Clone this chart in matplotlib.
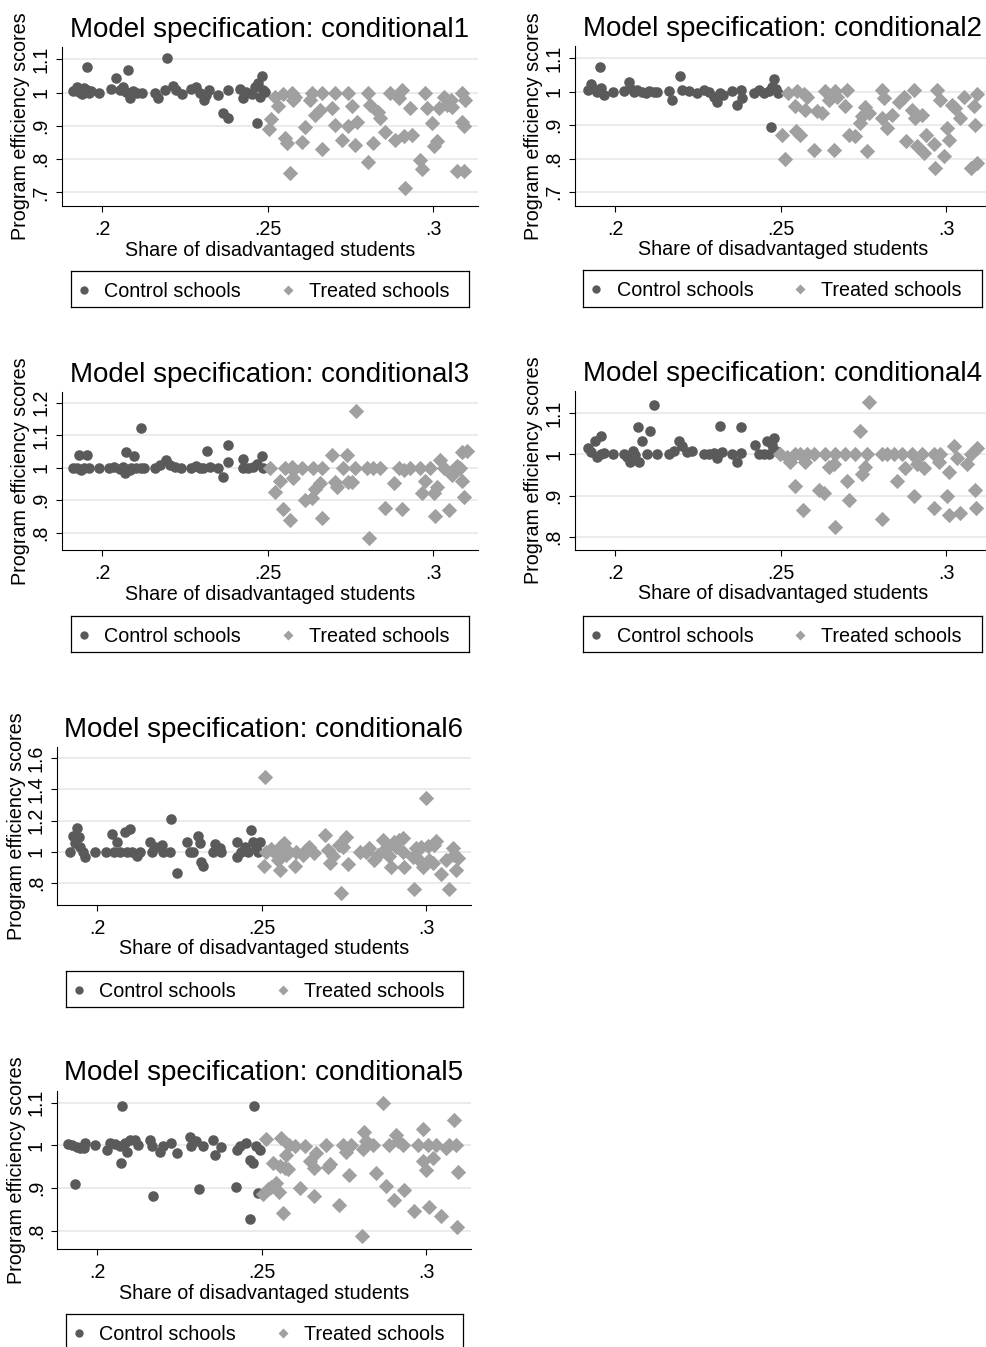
import numpy as np
import matplotlib
matplotlib.use("Agg")
import matplotlib.pyplot as plt
from matplotlib.lines import Line2D
from matplotlib.ticker import FixedLocator, FuncFormatter

plt.rcParams['font.family'] = ['Liberation Sans', 'DejaVu Sans']

W, H = 987, 1347

# conditional1
c1_ctrl_x = [0.1910, 0.1922, 0.1930, 0.1938, 0.1945, 0.1953, 0.1959, 0.1953, 0.1966, 0.1991,
             0.2026, 0.2041, 0.2052, 0.2062, 0.2077, 0.2072, 0.2084, 0.2092, 0.2104, 0.2120,
             0.2158, 0.2168, 0.2188, 0.2213, 0.2223, 0.2241, 0.2196, 0.2269, 0.2284, 0.2294,
             0.2306, 0.2314, 0.2322, 0.2350, 0.2363, 0.2380, 0.2380, 0.2415, 0.2425, 0.2435,
             0.2451, 0.2461, 0.2471, 0.2481, 0.2466, 0.2486, 0.2491, 0.2476]
c1_ctrl_y = [1.006, 1.016, 1.003, 0.996, 1.013, 1.008, 1.000, 1.078, 1.006, 1.000,
             1.010, 1.044, 1.008, 1.016, 1.068, 1.003, 0.983, 1.006, 1.000, 1.000,
             0.998, 0.983, 1.008, 1.020, 1.008, 0.995, 1.103, 1.010, 1.016, 0.998,
             0.978, 0.993, 1.008, 0.993, 0.938, 0.923, 1.008, 1.010, 0.983, 1.003,
             0.996, 1.016, 1.028, 1.050, 0.910, 1.008, 1.003, 0.988]
c1_trt_x = [0.2504, 0.2511, 0.2521, 0.2531, 0.2546, 0.2552, 0.2557, 0.2567, 0.2572, 0.2577,
            0.2582, 0.2602, 0.2612, 0.2632, 0.2627, 0.2642, 0.2658, 0.2663, 0.2663, 0.2693,
            0.2703, 0.2703, 0.2723, 0.2743, 0.2754, 0.2743, 0.2764, 0.2769, 0.2804, 0.2809,
            0.2819, 0.2804, 0.2834, 0.2839, 0.2855, 0.2870, 0.2885, 0.2895, 0.2905, 0.2910,
            0.2915, 0.2930, 0.2935, 0.2961, 0.2966, 0.2976, 0.2981, 0.2996, 0.3001, 0.3011,
            0.3016, 0.3031, 0.3041, 0.3052, 0.3057, 0.3072, 0.3087, 0.3087, 0.3092, 0.3097,
            0.3092]
c1_trt_y = [0.890, 0.920, 0.988, 0.960, 0.996, 0.863, 0.848, 0.758, 0.998, 0.978,
            0.988, 0.850, 0.898, 1.000, 0.978, 0.933, 0.948, 0.830, 1.000, 0.953,
            0.903, 1.000, 0.858, 0.998, 0.960, 0.900, 0.843, 0.913, 0.998, 0.963,
            0.848, 0.790, 0.943, 0.923, 0.880, 1.000, 0.858, 0.983, 1.008, 0.868,
            0.713, 0.953, 0.873, 0.798, 0.770, 1.000, 0.953, 0.908, 0.838, 0.853,
            0.953, 0.988, 0.963, 0.978, 0.958, 0.763, 1.000, 0.913, 0.763, 0.978,
            0.900]

# conditional2
c2_ctrl_x = [0.1917, 0.1927, 0.1936, 0.1946, 0.1954, 0.1956, 0.1966, 0.1994, 0.2028, 0.2041,
             0.2046, 0.2056, 0.2066, 0.2082, 0.2092, 0.2102, 0.2117, 0.2127, 0.2162, 0.2172,
             0.2197, 0.2202, 0.2223, 0.2248, 0.2268, 0.2283, 0.2298, 0.2308, 0.2318, 0.2326,
             0.2353, 0.2369, 0.2384, 0.2379, 0.2419, 0.2434, 0.2449, 0.2464, 0.2471, 0.2474,
             0.2481, 0.2487, 0.2491]
c2_ctrl_y = [1.005, 1.023, 1.007, 1.000, 1.074, 1.010, 0.990, 1.000, 1.003, 1.030,
             1.010, 1.000, 1.005, 1.000, 0.997, 1.003, 1.000, 1.000, 1.003, 0.975,
             1.047, 1.005, 1.003, 0.997, 1.005, 1.000, 0.985, 0.970, 0.995, 0.990,
             1.003, 0.960, 0.980, 1.005, 0.997, 1.005, 0.997, 1.003, 0.894, 1.013,
             1.037, 1.007, 0.995]
c2_trt_x = [0.2505, 0.2512, 0.2522, 0.2545, 0.2548, 0.2550, 0.2558, 0.2570, 0.2575, 0.2580,
            0.2600, 0.2610, 0.2625, 0.2635, 0.2646, 0.2661, 0.2666, 0.2671, 0.2696, 0.2701,
            0.2706, 0.2726, 0.2741, 0.2746, 0.2756, 0.2761, 0.2766, 0.2807, 0.2807, 0.2812,
            0.2822, 0.2837, 0.2857, 0.2872, 0.2880, 0.2902, 0.2897, 0.2907, 0.2912, 0.2927,
            0.2933, 0.2938, 0.2963, 0.2968, 0.2973, 0.2983, 0.2993, 0.3003, 0.3008, 0.3018,
            0.3028, 0.3043, 0.3053, 0.3074, 0.3084, 0.3089, 0.3094, 0.3094]
c2_trt_y = [0.871, 0.799, 0.997, 0.957, 0.881, 1.003, 0.871, 0.993, 0.946, 0.985,
            0.827, 0.941, 0.936, 1.003, 0.975, 0.825, 1.003, 0.985, 0.957, 1.005,
            0.871, 0.866, 0.906, 0.926, 0.955, 0.822, 0.936, 1.005, 0.921, 0.980,
            0.891, 0.931, 0.970, 0.985, 0.851, 1.005, 0.946, 0.921, 0.837, 0.931,
            0.817, 0.871, 0.845, 0.772, 1.005, 0.975, 0.807, 0.891, 0.856, 0.960,
            0.950, 0.921, 0.985, 0.772, 0.957, 0.901, 0.787, 0.993]

# conditional3
c3_ctrl_x = [0.1910, 0.1922, 0.1930, 0.1935, 0.1945, 0.1953, 0.1959, 0.1991, 0.2021, 0.2036,
             0.2052, 0.2062, 0.2067, 0.2070, 0.2082, 0.2087, 0.2097, 0.2102, 0.2117, 0.2127,
             0.2117, 0.2158, 0.2173, 0.2193, 0.2203, 0.2218, 0.2238, 0.2269, 0.2284, 0.2294,
             0.2304, 0.2316, 0.2324, 0.2350, 0.2365, 0.2380, 0.2380, 0.2425, 0.2425, 0.2440,
             0.2456, 0.2466, 0.2481, 0.2486]
c3_ctrl_y = [1.000, 1.000, 1.039, 0.993, 1.000, 1.039, 1.000, 1.000, 0.998, 1.003,
             0.996, 1.003, 0.983, 1.049, 0.993, 1.000, 1.037, 0.998, 1.000, 1.000,
             1.121, 1.000, 1.008, 1.024, 1.008, 1.003, 1.000, 1.000, 1.006, 0.998,
             0.998, 1.051, 1.003, 1.000, 0.972, 1.018, 1.070, 1.027, 1.000, 1.000,
             1.003, 1.010, 1.037, 1.000]
c3_trt_x = [0.2506, 0.2521, 0.2536, 0.2546, 0.2552, 0.2567, 0.2572, 0.2577, 0.2577, 0.2602,
            0.2612, 0.2632, 0.2637, 0.2642, 0.2658, 0.2663, 0.2663, 0.2693, 0.2703, 0.2708,
            0.2728, 0.2738, 0.2743, 0.2754, 0.2764, 0.2767, 0.2799, 0.2807, 0.2819, 0.2839,
            0.2855, 0.2880, 0.2895, 0.2905, 0.2910, 0.2930, 0.2961, 0.2966, 0.2976, 0.2991,
            0.3001, 0.3006, 0.3011, 0.3021, 0.3031, 0.3046, 0.3057, 0.3072, 0.3082, 0.3087,
            0.3087, 0.3092, 0.3102]
c3_trt_y = [1.000, 0.926, 0.959, 0.873, 1.000, 0.839, 1.003, 0.969, 0.993, 1.000,
            0.901, 0.906, 1.000, 0.934, 0.952, 1.000, 0.844, 1.039, 0.957, 0.942,
            1.000, 1.039, 0.957, 0.955, 1.000, 1.174, 1.000, 0.785, 1.000, 1.000,
            0.875, 0.952, 1.000, 0.873, 0.993, 1.000, 1.000, 0.921, 0.959, 1.000,
            0.921, 0.852, 0.942, 1.024, 1.000, 0.870, 0.977, 1.006, 1.000, 1.049,
            0.959, 0.911, 1.051]

# conditional4
c4_ctrl_x = [0.1917, 0.1927, 0.1938, 0.1946, 0.1956, 0.1956, 0.1966, 0.1994, 0.2026, 0.2036,
             0.2044, 0.2054, 0.2061, 0.2068, 0.2072, 0.2082, 0.2097, 0.2105, 0.2117, 0.2127,
             0.2162, 0.2177, 0.2192, 0.2202, 0.2218, 0.2233, 0.2268, 0.2283, 0.2298, 0.2308,
             0.2316, 0.2323, 0.2353, 0.2369, 0.2379, 0.2381, 0.2424, 0.2434, 0.2449, 0.2459,
             0.2464, 0.2474, 0.2481, 0.2487]
c4_ctrl_y = [1.015, 1.006, 1.032, 0.994, 1.045, 1.000, 1.002, 1.000, 1.000, 0.994,
             0.982, 1.008, 0.998, 1.067, 0.981, 1.032, 1.000, 1.056, 1.119, 1.000,
             1.000, 1.008, 1.031, 1.019, 1.006, 1.008, 1.000, 1.000, 1.002, 0.992,
             1.069, 1.005, 1.000, 0.981, 1.067, 1.002, 1.023, 1.000, 1.000, 1.031,
             1.000, 1.023, 1.040, 1.008]
c4_trt_x = [0.2499, 0.2520, 0.2530, 0.2545, 0.2545, 0.2560, 0.2568, 0.2575, 0.2580, 0.2600,
            0.2615, 0.2630, 0.2635, 0.2646, 0.2661, 0.2664, 0.2666, 0.2696, 0.2701, 0.2706,
            0.2726, 0.2741, 0.2746, 0.2756, 0.2766, 0.2761, 0.2807, 0.2807, 0.2822, 0.2842,
            0.2852, 0.2867, 0.2877, 0.2897, 0.2902, 0.2912, 0.2927, 0.2933, 0.2963, 0.2963,
            0.2978, 0.2983, 0.3003, 0.3008, 0.3008, 0.3023, 0.3033, 0.3043, 0.3063, 0.3074,
            0.3089, 0.3092, 0.3094]
c4_trt_y = [1.000, 0.994, 0.982, 0.922, 1.000, 1.000, 0.865, 0.982, 1.000, 1.000,
            0.914, 0.906, 1.000, 0.970, 0.976, 0.825, 1.000, 1.000, 0.935, 0.890,
            1.000, 1.056, 0.952, 0.970, 1.126, 1.000, 1.000, 0.844, 1.000, 1.000,
            0.935, 1.000, 0.966, 1.000, 0.898, 0.976, 1.000, 0.966, 0.871, 1.000,
            0.982, 1.000, 0.900, 0.958, 0.852, 1.019, 0.990, 0.857, 0.976, 1.000,
            0.914, 0.871, 1.015]

# conditional6
c6_ctrl_x = [0.1917, 0.1927, 0.1932, 0.1939, 0.1945, 0.1947, 0.1956, 0.1963, 0.1993, 0.2026,
             0.2043, 0.2049, 0.2059, 0.2069, 0.2084, 0.2089, 0.2099, 0.2104, 0.2119, 0.2129,
             0.2160, 0.2165, 0.2175, 0.2195, 0.2200, 0.2220, 0.2225, 0.2241, 0.2271, 0.2281,
             0.2291, 0.2306, 0.2311, 0.2316, 0.2322, 0.2352, 0.2357, 0.2372, 0.2377, 0.2423,
             0.2423, 0.2438, 0.2448, 0.2458, 0.2468, 0.2473, 0.2488, 0.2493, 0.2483]
c6_ctrl_y = [1.000, 1.101, 1.054, 1.150, 1.097, 1.032, 1.000, 0.964, 1.000, 1.000,
             1.114, 1.000, 1.064, 1.000, 1.129, 1.000, 1.144, 1.000, 0.972, 1.000,
             1.064, 1.000, 1.032, 1.043, 1.000, 1.000, 1.208, 0.865, 1.064, 1.000,
             1.000, 1.101, 1.054, 0.936, 0.908, 1.000, 1.049, 1.021, 1.000, 0.964,
             1.064, 1.000, 1.032, 1.000, 1.139, 1.064, 1.000, 1.064, 1.032]
c6_trt_x = [0.2506, 0.2509, 0.2514, 0.2529, 0.2539, 0.2549, 0.2554, 0.2559, 0.2566, 0.2574,
            0.2584, 0.2600, 0.2605, 0.2625, 0.2635, 0.2643, 0.2660, 0.2691, 0.2701, 0.2706,
            0.2716, 0.2736, 0.2741, 0.2746, 0.2756, 0.2761, 0.2797, 0.2817, 0.2827, 0.2842,
            0.2852, 0.2868, 0.2878, 0.2888, 0.2893, 0.2903, 0.2908, 0.2918, 0.2928, 0.2928,
            0.2933, 0.2959, 0.2964, 0.2969, 0.2979, 0.2984, 0.2989, 0.2999, 0.3004, 0.3009,
            0.3019, 0.3024, 0.3029, 0.3044, 0.3060, 0.3070, 0.3080, 0.3085, 0.3090, 0.3095]
c6_trt_y = [0.908, 1.483, 1.000, 1.015, 0.989, 0.946, 0.882, 1.036, 1.058, 0.979,
            1.000, 0.908, 1.000, 0.979, 1.011, 1.032, 0.989, 1.107, 1.011, 0.929,
            0.972, 1.043, 0.736, 1.032, 1.097, 0.921, 1.000, 1.000, 1.021, 0.946,
            0.979, 1.075, 1.021, 0.972, 0.903, 1.064, 1.032, 1.075, 1.000, 1.086,
            0.903, 0.968, 0.758, 1.021, 0.946, 1.032, 0.903, 1.343, 1.036, 0.946,
            0.925, 1.043, 1.071, 0.856, 0.946, 0.758, 1.021, 0.979, 0.882, 0.957]

# conditional5
c5_ctrl_x = [0.1912, 0.1922, 0.1932, 0.1937, 0.1947, 0.1958, 0.1963, 0.1993, 0.2028, 0.2038,
             0.2054, 0.2069, 0.2071, 0.2074, 0.2084, 0.2089, 0.2099, 0.2114, 0.2124, 0.2160,
             0.2165, 0.2170, 0.2190, 0.2200, 0.2225, 0.2241, 0.2281, 0.2286, 0.2301, 0.2309,
             0.2322, 0.2352, 0.2357, 0.2377, 0.2421, 0.2423, 0.2433, 0.2453, 0.2463, 0.2463,
             0.2473, 0.2475, 0.2483, 0.2488, 0.2493]
c5_ctrl_y = [1.003, 1.001, 0.909, 0.995, 0.993, 0.993, 1.006, 1.000, 0.989, 1.006,
             1.003, 0.998, 0.958, 1.091, 1.006, 0.985, 1.013, 1.013, 1.000, 1.013,
             0.998, 0.881, 0.985, 0.998, 1.006, 0.981, 1.020, 0.998, 1.009, 0.897,
             0.998, 1.013, 0.977, 0.997, 0.902, 0.989, 0.998, 1.006, 0.966, 0.827,
             0.958, 1.091, 0.998, 0.889, 0.989]
c5_trt_x = [0.2504, 0.2514, 0.2519, 0.2529, 0.2534, 0.2544, 0.2552, 0.2554, 0.2559, 0.2564,
            0.2569, 0.2574, 0.2579, 0.2584, 0.2600, 0.2615, 0.2630, 0.2645, 0.2660, 0.2660,
            0.2665, 0.2701, 0.2706, 0.2696, 0.2736, 0.2746, 0.2756, 0.2764, 0.2771, 0.2805,
            0.2807, 0.2812, 0.2817, 0.2837, 0.2847, 0.2868, 0.2878, 0.2888, 0.2903, 0.2908,
            0.2913, 0.2928, 0.2933, 0.2964, 0.2974, 0.2989, 0.2989, 0.2999, 0.3004, 0.3009,
            0.3019, 0.3029, 0.3044, 0.3060, 0.3070, 0.3085, 0.3090, 0.3092, 0.3095]
c5_trt_y = [0.886, 1.014, 0.897, 0.903, 0.958, 0.911, 0.891, 0.952, 1.016, 0.841,
            0.946, 0.977, 0.944, 1.001, 0.998, 0.899, 0.998, 0.962, 0.880, 0.946,
            0.981, 0.950, 0.956, 1.000, 0.860, 1.000, 0.985, 0.930, 1.000, 0.788,
            0.991, 1.032, 1.009, 1.000, 0.934, 1.100, 0.905, 1.000, 0.872, 1.024,
            1.009, 1.000, 0.895, 0.845, 1.000, 1.038, 0.962, 0.942, 1.000, 0.856,
            0.970, 1.000, 0.834, 0.993, 1.000, 1.059, 1.000, 0.809, 0.938]

x_ticks = [0.2, 0.25, 0.3]
x_lim = (0.1878, 0.3135)

# title, data, y ticks, y range, axes box in pixels (left, right, top, bottom), legend box
panels = [
    ("conditional1", c1_ctrl_x, c1_ctrl_y, c1_trt_x, c1_trt_y,
     [0.7, 0.8, 0.9, 1.0, 1.1], (0.659, 1.137), (62, 478, 47, 206), (70.7, 469, 270.7, 307.3)),
    ("conditional2", c2_ctrl_x, c2_ctrl_y, c2_trt_x, c2_trt_y,
     [0.7, 0.8, 0.9, 1.0, 1.1], (0.660, 1.136), (574.7, 990.7, 46, 205.5), (583, 981.7, 270.3, 307)),
    ("conditional3", c3_ctrl_x, c3_ctrl_y, c3_trt_x, c3_trt_y,
     [0.8, 0.9, 1.0, 1.1, 1.2], (0.747, 1.233), (62, 478, 392, 550), (70.7, 469, 615.7, 652.3)),
    ("conditional4", c4_ctrl_x, c4_ctrl_y, c4_trt_x, c4_trt_y,
     [0.8, 0.9, 1.0, 1.1], (0.769, 1.153), (574.7, 990.7, 391, 549.7), (583, 981.7, 615.7, 652.3)),
    ("conditional6", c6_ctrl_x, c6_ctrl_y, c6_trt_x, c6_trt_y,
     [0.8, 1.0, 1.2, 1.4, 1.6], (0.659, 1.673), (57.3, 470.7, 747, 904.7), (65.7, 462.7, 970.7, 1007.3)),
    ("conditional5", c5_ctrl_x, c5_ctrl_y, c5_trt_x, c5_trt_y,
     [0.8, 0.9, 1.0, 1.1], (0.756, 1.128), (57.3, 470.7, 1090.7, 1249.3), (65.7, 462.7, 1314, 1351)),
]

CTRL = "#5a5a5a"
TRT = "#a0a0a0"
GRID = "#e6e6e6"
FS = 14.2
MS_O = 7.6
MS_D = 7.8


def stata_num(v, pos=None):
    s = f"{v:g}"
    if s.startswith("0."):
        s = s[1:]
    return s


def px_box(l, r, t, b):
    return [l / W, 1 - b / H, (r - l) / W, (b - t) / H]


fig = plt.figure(figsize=(W / 100, H / 100), dpi=100)

# legend keys are drawn a bit smaller than the plotted markers
leg_handles = [
    Line2D([], [], ls='none', marker='o', ms=6.0, mfc=CTRL, mec='none'),
    Line2D([], [], ls='none', marker='D', ms=5.6, mfc=TRT, mec='none'),
]

for name, cx, cy, tx, ty, yt, ylim, box, lbox in panels:
    ax = fig.add_axes(px_box(*box))
    ax.set_xlim(*x_lim)
    ax.set_ylim(*ylim)
    for v in yt:
        ax.axhline(v, color=GRID, lw=1.1, zorder=0)
    ax.scatter(cx, cy, s=MS_O ** 2, marker='o', color=CTRL, linewidths=0, zorder=2)
    ax.scatter(tx, ty, s=MS_D ** 2, marker='D', color=TRT, linewidths=0, zorder=3)

    for side in ('top', 'right'):
        ax.spines[side].set_visible(False)
    for side in ('left', 'bottom'):
        ax.spines[side].set_linewidth(0.8)
    ax.xaxis.set_major_locator(FixedLocator(x_ticks))
    ax.xaxis.set_major_formatter(FuncFormatter(stata_num))
    ax.yaxis.set_major_locator(FixedLocator(yt))
    ax.yaxis.set_major_formatter(FuncFormatter(stata_num))
    ax.tick_params(axis='both', direction='out', length=4.2, width=0.8, labelsize=FS)
    ax.tick_params(axis='x', pad=6)
    ax.tick_params(axis='y', pad=4)
    for lab in ax.get_yticklabels():
        lab.set_rotation(90)
        lab.set_va('center')

    ax.set_xlabel("Share of disadvantaged students", fontsize=FS, labelpad=1)
    ax.set_ylabel("Program efficiency scores", fontsize=FS, labelpad=1)
    ax.set_title("Model specification: " + name, fontsize=20, pad=7.5)

    # legend frame
    lax = fig.add_axes(px_box(*lbox))
    lax.set_xticks([])
    lax.set_yticks([])
    for sp in lax.spines.values():
        sp.set_linewidth(0.9)
    lax.patch.set_alpha(0)
    lax.legend(leg_handles, ["Control schools", "Treated schools"], loc='center left',
               bbox_to_anchor=(0, 0.44), ncol=2, frameon=False, fontsize=FS,
               handlelength=0.65, handletextpad=0.72, columnspacing=2.05,
               borderpad=0, borderaxespad=0.34)

fig.savefig("out.png", dpi=100)
